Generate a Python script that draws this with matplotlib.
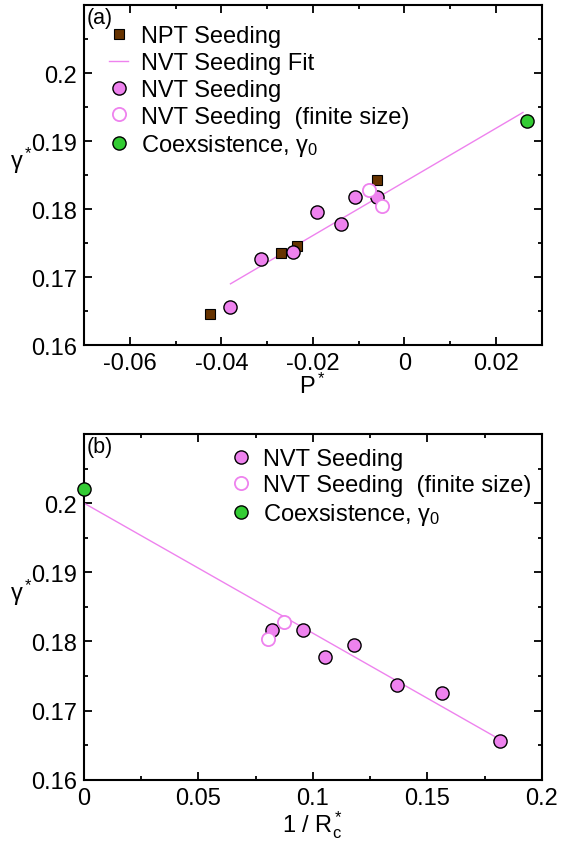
import matplotlib
matplotlib.use("Agg")
import matplotlib.pyplot as plt
from matplotlib.ticker import MultipleLocator

plt.rcParams['font.family'] = ['Liberation Sans', 'DejaVu Sans']
plt.rcParams['mathtext.fontset'] = 'custom'
plt.rcParams['mathtext.rm'] = 'Liberation Sans'
plt.rcParams['mathtext.it'] = 'Liberation Sans'

# panel (a): gamma* vs P*
npt_p = [-0.0425, -0.0270, -0.0235, -0.0060]
npt_gamma = [0.1645, 0.1735, 0.1745, 0.1843]

nvt_p = [-0.0380, -0.0314, -0.0244, -0.0191, -0.0139, -0.0109, -0.0059]
nvt_gamma = [0.1656, 0.1726, 0.1737, 0.1795, 0.1778, 0.1817, 0.1817]

fs_p = [-0.0078, -0.0049]
fs_gamma = [0.1828, 0.1804]

coex_p = [0.0267]
coex_gamma_a = [0.1929]

fit_p = [-0.0380, 0.0259]
fit_gamma_a = [0.1690, 0.1942]

# panel (b): gamma* vs 1/Rc*
nvt_inv_r = [0.1818, 0.1566, 0.1369, 0.1181, 0.1055, 0.0823, 0.0959]
fs_inv_r = [0.0874, 0.0804]
coex_inv_r = [0.0]
coex_gamma_b = [0.2020]
fit_inv_r = [0.0, 0.1818]
fit_gamma_b = [0.2000, 0.1658]

violet = '#ee82ee'
brown = '#663300'
green = '#33cc33'
fsize = 17

fig = plt.figure(figsize=(5.7, 8.45), dpi=100)
ax1 = fig.add_axes([0.1474, 0.5905, 0.803, 0.4024])
ax2 = fig.add_axes([0.1474, 0.0761, 0.803, 0.4091])

circ = dict(marker='o', markersize=9.5, markeredgecolor='black', markeredgewidth=1.0, linestyle='none')
opn = dict(marker='o', markersize=9.5, markerfacecolor='white', markeredgecolor=violet,
           markeredgewidth=1.3, linestyle='none')

# panel (a)
ax1.plot(npt_p, npt_gamma, marker='s', markersize=7.5, color=brown, markeredgecolor='black',
         markeredgewidth=0.8, linestyle='none', label='NPT Seeding', zorder=3)
ax1.plot(fit_p, fit_gamma_a, color=violet, linewidth=1.0, label='NVT Seeding Fit', zorder=2)
ax1.plot(nvt_p, nvt_gamma, color=violet, label='NVT Seeding', zorder=4, **circ)
ax1.plot(fs_p, fs_gamma, label='NVT Seeding  (finite size)', zorder=4, **opn)
ax1.plot(coex_p, coex_gamma_a, color=green, label=r'Coexsistence, $\mathregular{\gamma_0}$',
         zorder=4, clip_on=False, **circ)
ax1.set_xlim(-0.07, 0.03)
ax1.set_ylim(0.16, 0.21)
ax1.set_xticks([-0.06, -0.04, -0.02, 0, 0.02])
ax1.set_xticklabels(['-0.06', '-0.04', '-0.02', '0', '0.02'])
ax1.xaxis.set_minor_locator(MultipleLocator(0.01))
ax1.set_yticks([0.16, 0.17, 0.18, 0.19, 0.2])
ax1.set_yticklabels(['0.16', '0.17', '0.18', '0.19', '0.2'])
ax1.yaxis.set_minor_locator(MultipleLocator(0.005))
ax1.set_xlabel(r'$\mathregular{P^*}$', fontsize=fsize, labelpad=-1)
ax1.set_ylabel(r'$\mathregular{\gamma^*}$', fontsize=fsize, rotation=0, labelpad=7)
ax1.text(0.005, 0.995, '(a)', transform=ax1.transAxes, fontsize=15.5, va='top', ha='left')
ax1.legend(loc='upper left', bbox_to_anchor=(0.055, 0.94), frameon=False, fontsize=fsize,
           handlelength=0.8, handletextpad=0.55, labelspacing=0.2, borderpad=0, borderaxespad=0)

# panel (b)
ax2.plot(fit_inv_r, fit_gamma_b, color=violet, linewidth=1.0, zorder=2)
ax2.plot(nvt_inv_r, nvt_gamma, color=violet, label='NVT Seeding', zorder=4, **circ)
ax2.plot(fs_inv_r, fs_gamma, label='NVT Seeding  (finite size)', zorder=4, **opn)
ax2.plot(coex_inv_r, coex_gamma_b, color=green, label=r'Coexsistence, $\mathregular{\gamma_0}$',
         zorder=5, clip_on=False, **circ)
ax2.set_xlim(0, 0.2)
ax2.set_ylim(0.16, 0.21)
ax2.set_xticks([0, 0.05, 0.1, 0.15, 0.2])
ax2.set_xticklabels(['0', '0.05', '0.1', '0.15', '0.2'])
ax2.xaxis.set_minor_locator(MultipleLocator(0.025))
ax2.set_yticks([0.16, 0.17, 0.18, 0.19, 0.2])
ax2.set_yticklabels(['0.16', '0.17', '0.18', '0.19', '0.2'])
ax2.yaxis.set_minor_locator(MultipleLocator(0.005))
ax2.set_xlabel(r'$\mathregular{1\ /\ R^*_c}$', fontsize=fsize, labelpad=0)
ax2.set_ylabel(r'$\mathregular{\gamma^*}$', fontsize=fsize, rotation=0, labelpad=7)
ax2.text(0.005, 0.995, '(b)', transform=ax2.transAxes, fontsize=15.5, va='top', ha='left')
ax2.legend(loc='upper left', bbox_to_anchor=(0.322, 0.96), frameon=False, fontsize=fsize,
           handlelength=0.8, handletextpad=0.55, labelspacing=0.19, borderpad=0, borderaxespad=0)

for ax in (ax1, ax2):
    for s in ax.spines.values():
        s.set_linewidth(1.5)
    ax.tick_params(which='both', direction='in', top=True, right=True, labelsize=fsize, width=1.3)
    ax.tick_params(which='major', length=6, pad=5)
    ax.tick_params(which='minor', length=3)

fig.savefig('out.png', dpi=100)
